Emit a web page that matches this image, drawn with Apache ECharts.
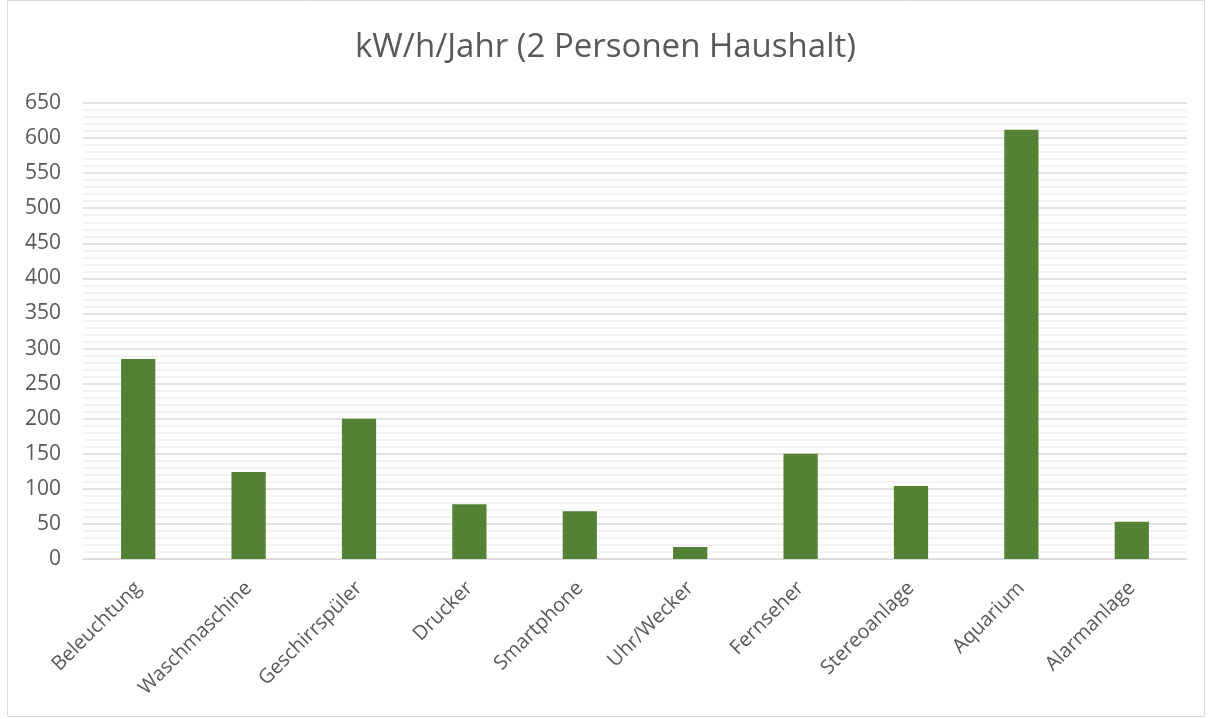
<!DOCTYPE html>
<html><head><meta charset="utf-8">
<script src="https://cdn.jsdelivr.net/npm/echarts@6/dist/echarts.min.js"></script>
<style>html,body{margin:0;padding:0;background:#fff}#c{width:1211px;height:719px}</style>
</head><body><div id="c"></div>
<script>
const title = 'kW/h/Jahr (2 Personen Haushalt)';
const categories = ['Beleuchtung','Waschmaschine','Geschirrspüler','Drucker','Smartphone','Uhr/Wecker','Fernseher','Stereoanlage','Aquarium','Alarmanlage'];
const values = [285, 124, 200, 78, 68, 17, 150, 104, 612, 53];

const chart = echarts.init(document.getElementById('c'), null, {renderer:'canvas'});
chart.setOption({
  animation:false,
  backgroundColor:'#fff',
  graphic:[{type:'rect', shape:{x:7.5,y:0.5,width:1197,height:716}, style:{fill:'none', stroke:'#d9d9d9', lineWidth:1}, silent:true}],
  title:{text:title, left:'center', top:26, textStyle:{fontFamily:'Open Sans', fontSize:33, fontWeight:'normal', color:'#595959'}},
  grid:{left:83, right:24, top:103, bottom:160, containLabel:false},
  xAxis:{type:'category', data:categories,
    axisLine:{lineStyle:{color:'#d9d9d9', width:1}},
    axisTick:{show:false},
    axisLabel:{rotate:45, interval:0, margin:26, fontFamily:'Open Sans', fontSize:20, color:'#595959'}},
  yAxis:{type:'value', min:0, max:650, interval:50,
    axisLine:{show:false}, axisTick:{show:false},
    axisLabel:{fontFamily:'Open Sans', fontSize:21, color:'#595959', margin:22},
    splitLine:{lineStyle:{color:'#d9d9d9', width:1.5}},
    minorTick:{show:false, splitNumber:5},
    minorSplitLine:{show:true, lineStyle:{color:'#efefef', width:1.5}}},
  series:[{type:'bar', data:values, barWidth:'31%', itemStyle:{color:'#548235'}}]
});
</script></body></html>
